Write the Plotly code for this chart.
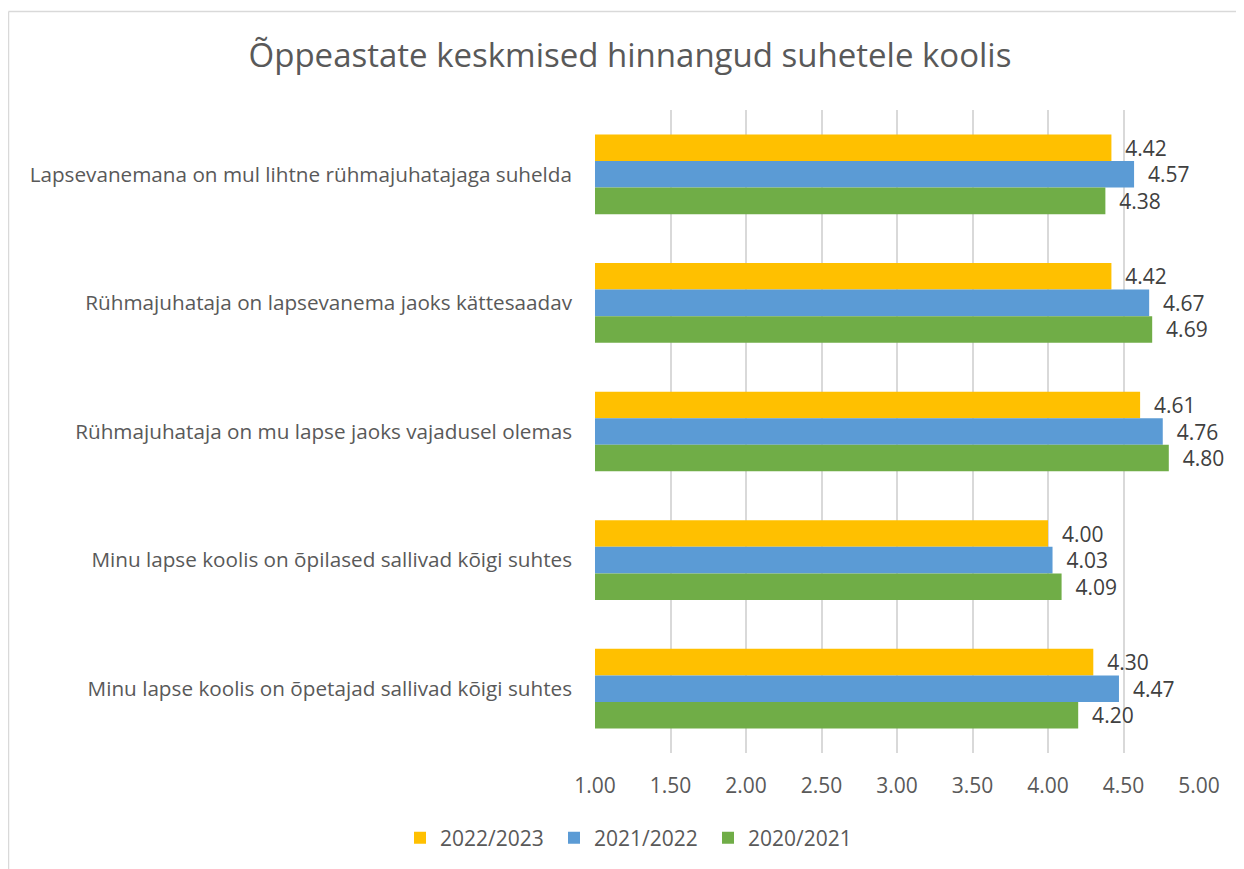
import plotly.graph_objects as go

categories = [
    "Lapsevanemana on mul lihtne rühmajuhatajaga suhelda",
    "Rühmajuhataja on lapsevanema jaoks kättesaadav",
    "Rühmajuhataja on mu lapse jaoks vajadusel olemas",
    "Minu lapse koolis on õpilased sallivad kõigi suhtes",
    "Minu lapse koolis on õpetajad sallivad kõigi suhtes",
]
series_names = ["2022/2023", "2021/2022", "2020/2021"]
values_2022_2023 = [4.42, 4.42, 4.61, 4.00, 4.30]
values_2021_2022 = [4.57, 4.67, 4.76, 4.03, 4.47]
values_2020_2021 = [4.38, 4.69, 4.80, 4.09, 4.20]
colors = ["#FFC000", "#5B9BD5", "#70AD47"]
tick_vals = [1.0, 1.5, 2.0, 2.5, 3.0, 3.5, 4.0, 4.5, 5.0]
tick_text = ["1.00", "1.50", "2.00", "2.50", "3.00", "3.50", "4.00", "4.50", "5.00"]
title = "Õppeastate keskmised hinnangud suhetele koolis"

FONT = "Open Sans"
fig = go.Figure()
for name, vals, col in zip(series_names,
                           [values_2022_2023, values_2021_2022, values_2020_2021],
                           colors):
    fig.add_trace(go.Bar(
        name=name, y=categories, x=vals, orientation="h",
        base=0,
        marker=dict(color=col, line=dict(width=0)),
        text=[f"\u00a0\u00a0{v:.2f}" for v in vals],
        textposition="outside", cliponaxis=False, constraintext="none",
        textfont=dict(family=FONT, size=21, color="#404040"),
        hoverinfo="skip",
    ))

# page is offset by 8px body margin
OFF = 8
W, H = 1244 - OFF, 869 - OFF
L = 595 - OFF
T = 110 - OFF
R = W - (1199 - OFF)
B = H - (753 - OFF)
pw, ph = W - L - R, H - T - B

def px_x(p):
    return (p - OFF - L) / pw

def px_y(p):
    return (H - B - (p - OFF)) / ph

fig.update_layout(
    width=W, height=H,
    margin=dict(l=L, r=R, t=T, b=B, autoexpand=False),
    paper_bgcolor="white", plot_bgcolor="white",
    barmode="group", bargap=0.38, bargroupgap=0,
    title=dict(text=title, x=(630 - OFF) / W, xanchor="center", y=1 - (55 - OFF) / H, yanchor="middle",
               font=dict(family=FONT, size=33, color="#595959")),
    font=dict(family=FONT, color="#595959"),
    xaxis=dict(range=[1, 5], tickvals=tick_vals, ticktext=tick_text,
               showgrid=True, gridcolor="#d9d9d9", gridwidth=1.5,
               zeroline=False, showline=False, ticks="",
               ticklabelstandoff=18,
               tickfont=dict(family=FONT, size=21, color="#595959")),
    yaxis=dict(autorange="reversed", showgrid=False, zeroline=False, showline=False,
               ticks="", ticklabelstandoff=22,
               tickfont=dict(family=FONT, size=20.7, color="#595959")),
    legend=dict(orientation="h", x=px_x(631), xanchor="center", y=px_y(838), yanchor="middle",
                font=dict(family=FONT, size=21, color="#595959"),
                traceorder="normal", entrywidth=109, entrywidthmode="pixels"),
    showlegend=True,
    shapes=[
        dict(type="line", xref="paper", yref="paper", x0=px_x(8.5), x1=px_x(1260),
             y0=px_y(11.5), y1=px_y(11.5), line=dict(color="#d9d9d9", width=1.5), layer="below"),
        dict(type="line", xref="paper", yref="paper", x0=px_x(8.5), x1=px_x(8.5),
             y0=px_y(11.5), y1=px_y(900), line=dict(color="#d9d9d9", width=1.5), layer="below"),
    ],
)
fig.write_html("out.html")
